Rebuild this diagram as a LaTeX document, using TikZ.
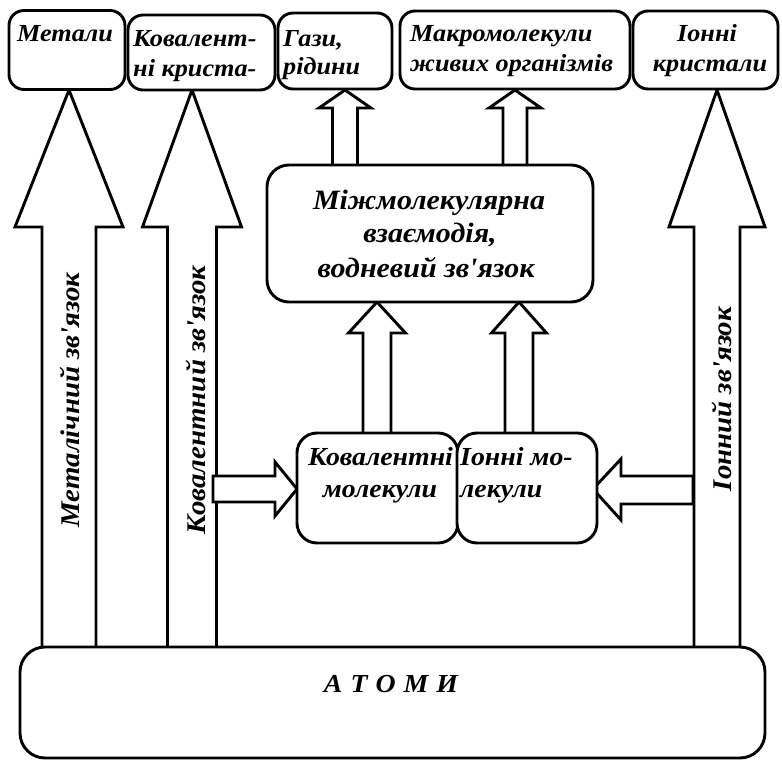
\documentclass[tikz,border=0pt]{standalone}
\usepackage{fontspec}
\setmainfont{Liberation Serif}[FakeStretch=1.07, Ligatures=TeXOff]
\newcommand\fsz[1]{\fontsize{#1}{30}\selectfont\bfseries\itshape}
\newcommand\upblk[6]{% x, ybottom, ytip, half shaft, half head, head length
  \draw[blk] (#1-#4,#2) -- (#1-#4,#3+#6) -- (#1-#5,#3+#6) -- (#1,#3) -- (#1+#5,#3+#6) -- (#1+#4,#3+#6) -- (#1+#4,#2) -- cycle;}
\newcommand\hblk[6]{% y, xstart, xtip, half shaft, half head, head length
  \draw[blk] (#2,#1-#4) -- (#3-#6,#1-#4) -- (#3-#6,#1-#5) -- (#3,#1) -- (#3-#6,#1+#5) -- (#3-#6,#1+#4) -- (#2,#1+#4) -- cycle;}
\tikzset{
  box/.style={draw, line width=2.9pt, fill=white, inner sep=0pt},
  blk/.style={draw, line width=2.9pt, fill=white, line join=miter},
  lbl/.style={font=\fsz{24.5}, inner sep=0pt, anchor=base west},
  clbl/.style={font=\fsz{24.5}, inner sep=0pt, anchor=base},
  mlbl/.style={font=\fsz{28}, inner sep=0pt, anchor=base},
  blbl/.style={font=\fsz{26}, inner sep=0pt, anchor=base west},
  vlbl/.style={font=\fsz{27}, inner sep=0pt, rotate=90},
}
\begin{document}
\begin{tikzpicture}[x=1pt,y=-1pt]
\useasboundingbox (0,0) rectangle (782,762);
% big arrows
\upblk{69}{650}{90}{27}{54}{137}
\upblk{192}{650}{90}{24.5}{49.5}{137}
\upblk{717}{650}{90}{23}{48}{137}
\node[vlbl] (lmet) at (70,400) {Металічний зв'язок};
\node[vlbl] (lkov) at (196,400) {Ковалентний зв'язок};
\node[vlbl] (lion) at (722,399) {Іонний зв'язок};
% atoms box
\node[box, rounded corners=25pt, minimum width=745pt, minimum height=111pt] (atoms) at (392.5,702.5) {};
\node[clbl, font=\fsz{26}] (tatoms) at (391,692) {А\hspace{8pt}Т\hspace{8pt}О\hspace{8pt}М\hspace{8pt}И};
% small arrows
\upblk{345}{166}{90}{12.5}{26}{18}
\upblk{515}{166}{90}{12}{26}{18}
\upblk{377}{434}{302}{14}{28.5}{31}
\upblk{519}{434}{302}{14}{27.5}{31}
% horizontal arrows
\hblk{489}{213}{297}{13}{27}{22}
\draw[blk] (693,476) -- (621,476) -- (621,459) -- (593,489) -- (621,520) -- (621,504) -- (693,504) -- cycle;
% top boxes
\node[box, rounded corners=15pt, minimum width=116pt, minimum height=79pt] (metal) at (67,50) {};
\node[box, rounded corners=15pt, minimum width=147pt, minimum height=75pt] (kovkr) at (201.5,52.5) {};
\node[box, rounded corners=15pt, minimum width=114pt, minimum height=76pt] (gazy) at (335,51) {};
\node[box, rounded corners=15pt, minimum width=230pt, minimum height=78pt] (makro) at (515,50) {};
\node[box, rounded corners=15pt, minimum width=145pt, minimum height=78pt] (ionkr) at (705.5,50) {};
\node[lbl] (t1) at (17,42) {Метали};
\node[lbl] (t2a) at (133,47) {Ковалент-};
\node[lbl] (t2b) at (133,77) {ні криста-};
\node[lbl] (t3a) at (283,47) {Гази,};
\node[lbl] (t3b) at (283,75) {рідини};
\node[lbl] (t4a) at (410,42) {Макромолекули};
\node[lbl] (t4b) at (410,72) {живих організмів};
\node[clbl] (t5a) at (707,42) {Іонні};
\node[clbl] (t5b) at (710,72) {кристали};
% middle box
\node[box, rounded corners=22pt, minimum width=326pt, minimum height=137pt] (mid) at (430,233.5) {};
\node[mlbl] (m1) at (429,210) {Міжмолекулярна};
\node[mlbl] (m2) at (430,243) {взаємодія,};
\node[mlbl] (m3) at (426,277) {водневий зв'язок};
% bottom boxes
\node[box, rounded corners=20pt, minimum width=161pt, minimum height=110pt] (kovmol) at (377.5,488) {};
\node[box, rounded corners=20pt, minimum width=140pt, minimum height=110pt] (ionmol) at (527,488) {};
\node[blbl] (b1) at (308,465) {Ковалентні};
\node[blbl, anchor=base] (b2) at (380,497) {молекули};
\node[blbl] (b3) at (460,465) {Іонні мо-};
\node[blbl] (b4) at (460,497) {лекули};
\end{tikzpicture}
\end{document}
